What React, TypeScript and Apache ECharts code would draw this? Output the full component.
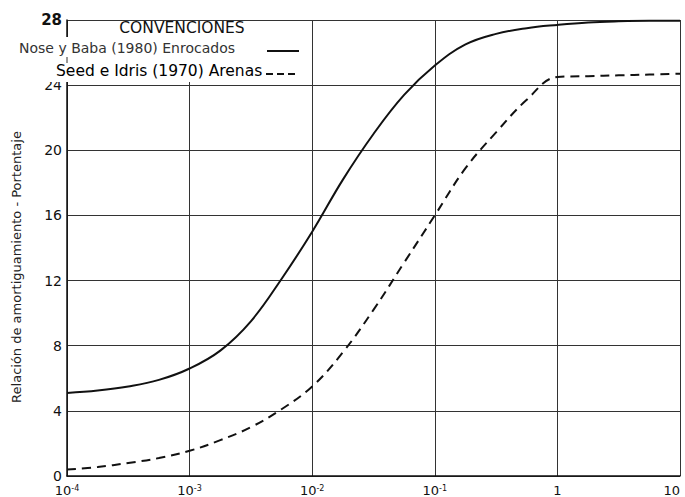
import React, { useEffect, useRef } from "react";
import * as echarts from "echarts";

// Nose y Baba (1980) Enrocados — solid
const noseX = [1e-4, 1.78e-4, 3.16e-4, 5.62e-4, 1e-3, 1.78e-3, 3.16e-3, 5.62e-3, 1e-2, 1.78e-2, 3.16e-2, 5.62e-2, 0.1, 0.178, 0.316, 0.562, 1, 1.78, 3.16, 5.62, 10];
const noseY = [5.1, 5.25, 5.5, 5.9, 6.6, 7.7, 9.5, 12.1, 15.0, 18.2, 21.0, 23.4, 25.2, 26.5, 27.15, 27.5, 27.7, 27.85, 27.92, 27.95, 27.95];

// Seed e Idris (1970) Arenas — dashed
const seedX = [1e-4, 1.78e-4, 3.16e-4, 5.62e-4, 1e-3, 1.78e-3, 3.16e-3, 5.62e-3, 1e-2, 1.78e-2, 3.16e-2, 5.62e-2, 0.1, 0.178, 0.316, 0.562, 1, 1.78, 3.16, 5.62, 10];
const seedY = [0.4, 0.55, 0.8, 1.1, 1.55, 2.2, 3.0, 4.1, 5.5, 7.6, 10.2, 13.1, 16.0, 18.9, 21.1, 23.1, 24.5, 24.55, 24.6, 24.65, 24.7];

const yTicks = [0, 4, 8, 12, 16, 20, 24, 28];
const xTickExponents = [-4, -3, -2, -1, 0, 1];

const legendTitle = "CONVENCIONES";
const legendSolid = "Nose y Baba (1980) Enrocados";
const legendDashed = "Seed e Idris (1970) Arenas";
const yAxisTitle = "Relación de amortiguamiento - Portentaje";

const FONT = "'DejaVu Sans', 'Liberation Sans', Arial, sans-serif";

export default function App() {
  const ref = useRef<HTMLDivElement>(null);
  useEffect(() => {
    if (!ref.current) return;
    const chart = echarts.init(ref.current, null, { renderer: "svg" });
    const zip = (xs: number[], ys: number[]) => xs.map((x, i) => [x, ys[i]]);
    chart.setOption({
      animation: false,
      backgroundColor: "#ffffff",
      grid: { left: 67, right: 5, top: 20, bottom: 21, containLabel: false },
      xAxis: {
        type: "log",
        logBase: 10,
        min: Math.pow(10, xTickExponents[0]),
        max: Math.pow(10, xTickExponents[xTickExponents.length - 1]),
        axisLine: { show: true, lineStyle: { color: "#111", width: 1.5 } },
        axisTick: { show: false },
        splitLine: { show: true, lineStyle: { color: "#333", width: 1 } },
        axisLabel: {
          margin: 8,
          color: "#111",
          fontFamily: FONT,
          fontSize: 13,
          lineHeight: 13,
          alignMaxLabel: "right",
          formatter: (v: number) => {
            const e = Math.round(Math.log10(v));
            if (e === 0) return "{b|1}";
            if (e === 1) return "{b|10}";
            return `{b|10}{s|${e}}`;
          },
          rich: {
            b: { fontSize: 13, lineHeight: 13, fontFamily: FONT, color: "#111" },
            s: { fontSize: 8, lineHeight: 8, fontFamily: FONT, color: "#111", padding: [0, 0, 5, 0] },
          },
        },
      },
      yAxis: {
        type: "value",
        min: yTicks[0],
        max: yTicks[yTicks.length - 1],
        interval: 4,
        axisLine: { show: true, lineStyle: { color: "#111", width: 1.5 } },
        axisTick: { show: false },
        splitLine: { show: true, lineStyle: { color: "#333", width: 1 } },
        axisLabel: {
          margin: 5,
          color: "#111",
          fontFamily: FONT,
          fontSize: 14,
          lineHeight: 14,
          formatter: (v: number) => (v === 28 ? `{t|${v}}` : `${v}`),
          rich: { t: { fontSize: 15, lineHeight: 15, fontWeight: "bold", fontFamily: FONT, color: "#111" } },
        },
      },
      series: [
        {
          name: legendSolid,
          type: "line",
          data: zip(noseX, noseY),
          smooth: 0.4,
          showSymbol: false,
          lineStyle: { color: "#111", width: 2, type: "solid" },
          z: 3,
        },
        {
          name: legendDashed,
          type: "line",
          data: zip(seedX, seedY),
          smooth: 0.4,
          showSymbol: false,
          lineStyle: { color: "#111", width: 2, type: [9, 6] },
          z: 3,
        },
      ],
      graphic: [
        { type: "rect", z: 50, shape: { x: 68.5, y: 21, width: 238, height: 17 }, style: { fill: "#fff" } },
        { type: "rect", z: 50, shape: { x: 0, y: 37, width: 306.5, height: 45 }, style: { fill: "#fff" } },
        { type: "line", z: 51, shape: { x1: 67, y1: 57, x2: 67, y2: 63 }, style: { stroke: "#333", lineWidth: 1 } },
        {
          type: "text", z: 51, x: 182, y: 28,
          style: { text: legendTitle, fontFamily: FONT, fontSize: 15.5, fontWeight: 500, fill: "#111", align: "center", verticalAlign: "middle" },
        },
        {
          type: "text", z: 51, x: 19, y: 48,
          style: { text: legendSolid, fontFamily: FONT, fontSize: 14, fill: "#333", align: "left", verticalAlign: "middle" },
        },
        { type: "line", z: 51, shape: { x1: 267, y1: 51, x2: 299, y2: 51 }, style: { stroke: "#111", lineWidth: 2 } },
        {
          type: "text", z: 51, x: 56, y: 71,
          style: { text: legendDashed, fontFamily: FONT, fontSize: 15.5, fill: "#000", align: "left", verticalAlign: "middle" },
        },
        { type: "line", z: 51, shape: { x1: 266, y1: 74, x2: 299, y2: 74 }, style: { stroke: "#111", lineWidth: 2, lineDash: [7, 4] } },
        {
          type: "text", z: 51, x: 16, y: 267, rotation: Math.PI / 2,
          style: { text: yAxisTitle, fontFamily: FONT, fontSize: 13, fill: "#222", align: "center", verticalAlign: "middle" },
        },
      ],
    });
    return () => chart.dispose();
  }, []);
  return <div ref={ref} style={{ width: 685, height: 497, position: "absolute", left: 0, top: 0 }} />;
}
